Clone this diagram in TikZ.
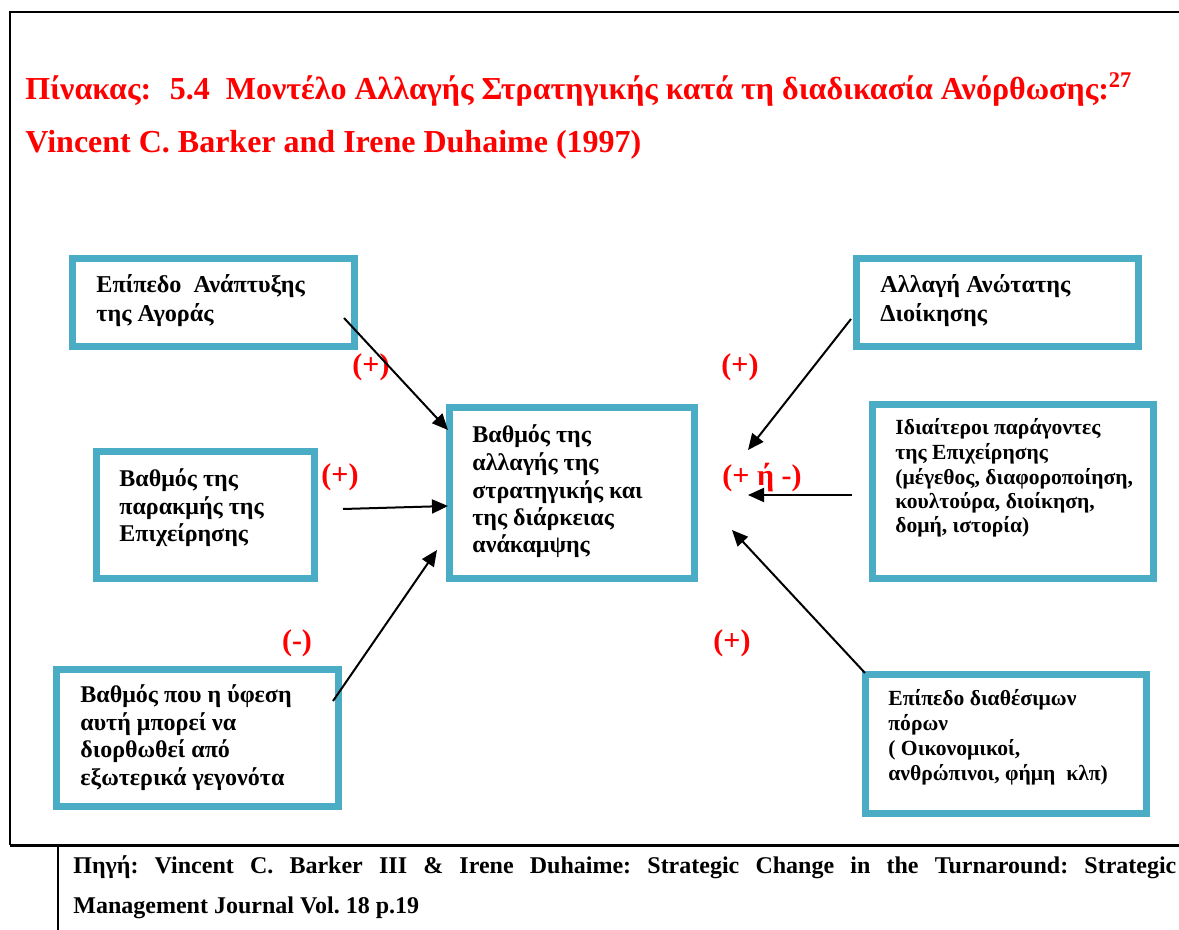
\documentclass[tikz,border=0pt]{standalone}
\usepackage{fontspec}
\setmainfont{Liberation Serif}
\usetikzlibrary{arrows.meta}
\definecolor{boxblue}{HTML}{4BACC6}
\definecolor{signred}{HTML}{FF0000}
\tikzset{
    box/.style={draw=boxblue, line width=3.5pt, inner sep=0pt},
    boxtext/.style={anchor=base west, align=left, inner sep=0pt, font=\bfseries\fontsize{12}{13.75}\selectfont},
    sign/.style={text=signred, inner sep=0pt, font=\bfseries\fontsize{15}{17}\selectfont},
    link/.style={line width=1pt, -{Triangle[length=8pt,width=7pt]}},
}
\begin{document}
\begin{tikzpicture}[x=0.5pt,y=-0.5pt]
    \useasboundingbox (0,0) rectangle (1179,930);
    % frame
    \draw[line width=1pt] (1179,12) -- (10,12) -- (10,845);
    \draw[line width=1.5pt] (10,845) -- (1179,845);
    \draw[line width=1pt] (58,845) -- (58,930);
    % title
    \node[anchor=base west, inner sep=0pt, text=signred, font=\bfseries\fontsize{16}{19}\selectfont] (title) at (25,100)
        {Πίνακας:~ 5.4~ Μοντέλο Αλλαγής Στρατηγικής κατά τη διαδικασία Ανόρθωσης:\textsuperscript{27}};
    \node[anchor=base west, inner sep=0pt, text=signred, font=\bfseries\fontsize{16}{19}\selectfont] (authors) at (25,153)
        {Vincent C. Barker and Irene Duhaime (1997)};
    % boxes
    \node[box, minimum width=141pt, minimum height=44pt] (market) at (213.5,302.5) {};
    \node[box, minimum width=109pt, minimum height=63.5pt] (decline) at (205.5,515) {};
    \node[box, minimum width=141pt, minimum height=68.5pt] (recession) at (197.5,738) {};
    \node[box, minimum width=122.5pt, minimum height=85.5pt] (change) at (572,493) {};
    \node[box, minimum width=141pt, minimum height=44pt] (topmgmt) at (997.5,302.5) {};
    \node[box, minimum width=140.5pt, minimum height=87pt] (factors) at (1013,491.5) {};
    \node[box, minimum width=140.5pt, minimum height=69.5pt] (resources) at (1006,744) {};
    % box texts (placed at the last line)
    \node[boxtext, font=\bfseries\fontsize{12.1}{14.5}\selectfont] (market text) at (96,322)
        {Επίπεδο~ Ανάπτυξης\\της Αγοράς};
    \node[boxtext] (decline text) at (119,542) {Βαθμός της\\παρακμής της\\Επιχείρησης};
    \node[boxtext] (recession text) at (80,785)
        {Βαθμός που η ύφεση\\αυτή μπορεί να\\διορθωθεί από\\εξωτερικά γεγονότα};
    \node[boxtext] (change text) at (472,553)
        {Βαθμός της\\αλλαγής της\\στρατηγικής και\\της διάρκειας\\ανάκαμψης};
    \node[boxtext, font=\bfseries\fontsize{12.1}{14.5}\selectfont] (topmgmt text) at (880,322)
        {Αλλαγή Ανώτατης\\Διοίκησης};
    \node[boxtext, font=\bfseries\fontsize{10.8}{12.25}\selectfont] (factors text) at (895,533)
        {Ιδιαίτεροι παράγοντες\\της Επιχείρησης\\(μέγεθος, διαφοροποίηση,\\κουλτούρα, διοίκηση,\\δομή, ιστορία)};
    \node[boxtext, font=\bfseries\fontsize{10.8}{12.5}\selectfont] (resources text) at (888,780)
        {Επίπεδο διαθέσιμων\\πόρων\\( Οικονομικοί,\\ανθρώπινοι, φήμη~ κλπ)};
    % signs
    \node[sign] (s1) at (371,367) {(+)};
    \node[sign] (s2) at (340,477) {(+)};
    \node[sign] (s3) at (297,643) {(-)};
    \node[sign] (s4) at (740,367) {(+)};
    \node[sign] (s5) at (762,478) {(+ ή -)};
    \node[sign] (s6) at (732,643) {(+)};
    % arrow ends
    \coordinate (m1) at (344,318);  \coordinate (m2) at (448,430);
    \coordinate (d1) at (343,509);  \coordinate (d2) at (448,506);
    \coordinate (r1) at (333,701);  \coordinate (r2) at (437,550);
    \coordinate (t1) at (851,319);  \coordinate (t2) at (748,450);
    \coordinate (f1) at (852,495);  \coordinate (f2) at (748,495);
    \coordinate (p1) at (865,673);  \coordinate (p2) at (732,530);
    \draw[link] (m1) -- (m2);
    \draw[link] (d1) -- (d2);
    \draw[link] (r1) -- (r2);
    \draw[link] (t1) -- (t2);
    \draw[link] (f1) -- (f2);
    \draw[link] (p1) -- (p2);
    % source (first line is the base)
    \node[anchor=base west, inner sep=0pt, text width=551.5pt, align=justify, font=\bfseries\fontsize{12}{20}\selectfont] (source) at (73,873)
        {\frenchspacing Πηγή: Vincent C. Barker III \& Irene Duhaime: Strategic Change in the Turnaround: Strategic\linebreak Management Journal Vol. 18 p.19};
\end{tikzpicture}
\end{document}
